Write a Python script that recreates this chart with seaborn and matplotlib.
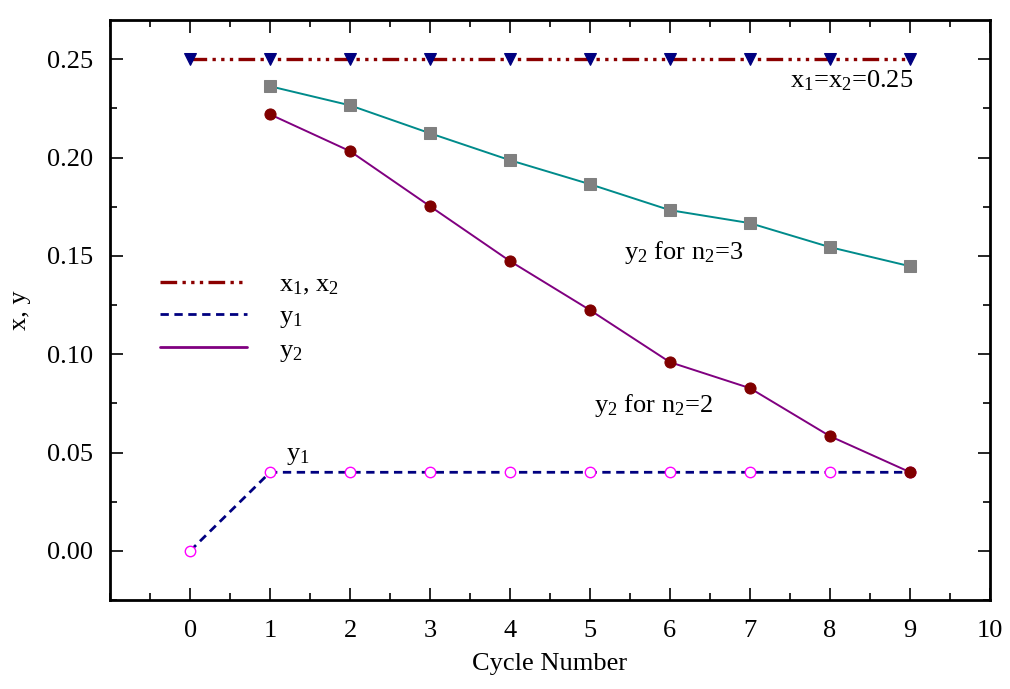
"""Composition over cycles: x1, x2 constant, y1 and y2 for n2=2 / n2=3."""
import matplotlib
matplotlib.use("Agg")
import matplotlib.pyplot as plt
import numpy as np
import seaborn as sns
from matplotlib.lines import Line2D
from matplotlib.ticker import MultipleLocator, FormatStrFormatter

cycles = [0, 1, 2, 3, 4, 5, 6, 7, 8, 9]
cycles_y2 = [1, 2, 3, 4, 5, 6, 7, 8, 9]
x12 = [0.25, 0.25, 0.25, 0.25, 0.25, 0.25, 0.25, 0.25, 0.25, 0.25]
y1 = [0.0, 0.04, 0.04, 0.04, 0.04, 0.04, 0.04, 0.04, 0.04, 0.04]
y2_n2 = [0.222, 0.2033, 0.1753, 0.1474, 0.1225, 0.096, 0.0828, 0.0584, 0.0401]
y2_n3 = [0.2363, 0.2266, 0.2124, 0.1987, 0.1865, 0.1733, 0.1667, 0.1545, 0.1448]

DASH_DOT_DOT = (0, (5, 1.6, 1, 1.6, 1, 1.6, 1, 1.6))
FS = 19

sns.set_style("ticks")
plt.rcParams["font.family"] = ["Liberation Serif", "DejaVu Serif"]
plt.rcParams["mathtext.fontset"] = "custom"
plt.rcParams["mathtext.rm"] = "Liberation Serif"
plt.rcParams["mathtext.default"] = "regular"
for key in ["text.color", "axes.labelcolor", "xtick.color", "ytick.color", "axes.edgecolor"]:
    plt.rcParams[key] = "black"

fig, ax = plt.subplots(figsize=(10.1, 6.89), dpi=100)
fig.subplots_adjust(left=0.109, right=0.980, top=0.971, bottom=0.129)

sns.lineplot(x=cycles, y=x12, ax=ax, color="#8b0000", lw=2.4,
             linestyle=DASH_DOT_DOT, marker="v", markersize=9,
             markerfacecolor="#000080", markeredgecolor="#000080")
sns.lineplot(x=cycles_y2, y=y2_n3, ax=ax, color="#008b8b", lw=1.4,
             marker="s", markersize=8, markerfacecolor="#808080",
             markeredgecolor="#808080")
sns.lineplot(x=cycles, y=y1, ax=ax, color="#000080", lw=2, linestyle=(0, (3, 2)),
             marker="o", markersize=7.5, markerfacecolor="white",
             markeredgecolor="#ff00ff", markeredgewidth=1)
sns.lineplot(x=cycles_y2, y=y2_n2, ax=ax, color="#800080", lw=1.4,
             marker="o", markersize=8, markerfacecolor="#800000",
             markeredgecolor="#800000")

ax.set_xlim(-1, 10)
ax.set_ylim(-0.025, 0.27)
ax.set_xticks(np.arange(0, 11, 1))
ax.xaxis.set_minor_locator(MultipleLocator(0.5))
ax.yaxis.set_major_locator(MultipleLocator(0.05))
ax.yaxis.set_minor_locator(MultipleLocator(0.025))
ax.yaxis.set_major_formatter(FormatStrFormatter("%.2f"))
ax.tick_params(which="both", direction="in", top=True, right=True, width=1.2)
ax.tick_params(which="major", length=9, labelsize=FS)
ax.tick_params(axis="x", which="major", pad=14)
ax.tick_params(axis="y", which="major", pad=12)
ax.tick_params(which="minor", length=5)
for sp in ax.spines.values():
    sp.set_linewidth(2)

ax.set_xlabel("Cycle Number", fontsize=FS, labelpad=8)
ax.set_ylabel("x, y", fontsize=FS, labelpad=12)

ax.text(7.5, 0.2355, "x$_1$=x$_2$=0.25", fontsize=FS)
ax.text(5.42, 0.1485, "y$_2$ for n$_2$=3", fontsize=FS)
ax.text(5.05, 0.0705, "y$_2$ for n$_2$=2", fontsize=FS)
ax.text(1.2, 0.0465, "y$_1$", fontsize=FS)

handles = [
    Line2D([], [], color="#8b0000", lw=2.4, linestyle=DASH_DOT_DOT),
    Line2D([], [], color="#000080", lw=2, linestyle=(0, (3, 2))),
    Line2D([], [], color="#800080", lw=2),
]
ax.legend(handles, ["x$_1$, x$_2$", "y$_1$", "y$_2$"], loc="upper left",
          bbox_to_anchor=(0.03, 0.605), frameon=False, fontsize=FS,
          handlelength=3.3, handletextpad=1.2, labelspacing=0.3)

fig.savefig("out.png", dpi=100)
